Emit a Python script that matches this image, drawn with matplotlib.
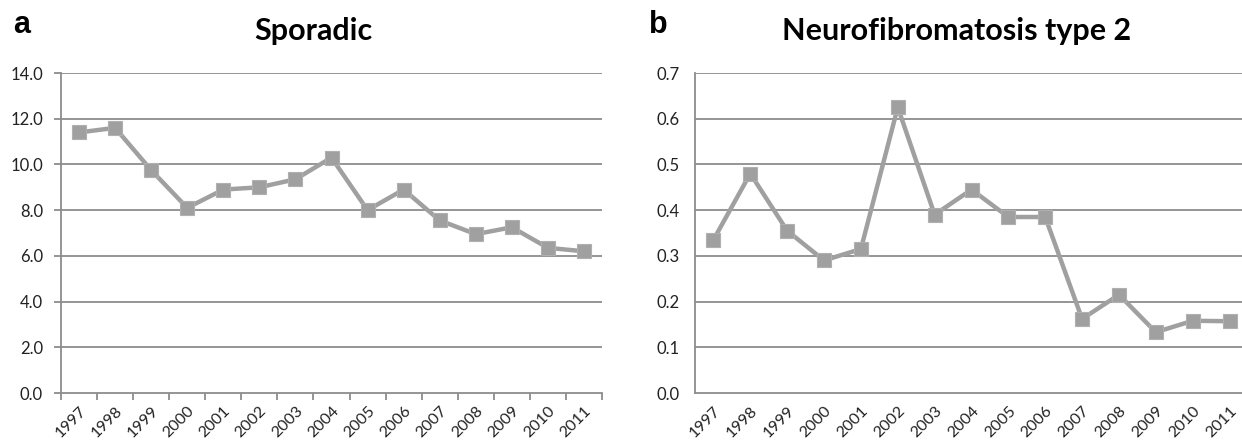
import matplotlib.pyplot as plt
import numpy as np

plt.rcParams['font.family'] = ['Lato', 'DejaVu Sans']

godine = ['1997', '1998', '1999', '2000', '2001', '2002', '2003', '2004',
          '2005', '2006', '2007', '2008', '2009', '2010', '2011']
sporadic = [11.4, 11.6, 9.75, 8.1, 8.9, 9.0, 9.35, 10.3, 8.0, 8.9, 7.55, 6.95, 7.25, 6.35, 6.2]
nf2 = [0.335, 0.48, 0.355, 0.29, 0.315, 0.625, 0.39, 0.445, 0.385, 0.385,
       0.162, 0.215, 0.133, 0.158, 0.157]

siva = '#a0a0a0'
mreza = '#8c8c8c'

fig = plt.figure(figsize=(12.42, 4.48), dpi=100)
ax1 = fig.add_axes([61/1242, 1-393/448, 541/1242, 320/448])
ax2 = fig.add_axes([695/1242, 1-393/448, 553/1242, 320/448])

x = np.arange(len(godine))

def nacrtaj(ax, y, ymax, korak, fmt, crtice):
    ax.plot(x, y, color=siva, linewidth=3.2, marker='s', markersize=10,
            markerfacecolor=siva, markeredgecolor='#b0b0b0', markeredgewidth=0.8,
            zorder=3)
    ax.set_xlim(-0.5, len(godine) - 0.5)
    ax.set_ylim(0, ymax)
    ticks = np.arange(0, ymax + korak / 2, korak)
    ax.set_yticks(ticks)
    ax.set_yticklabels([fmt.format(t) for t in ticks])
    ax.set_xticks(x)
    ax.set_xticklabels(godine, rotation=45, ha='right', rotation_mode='anchor')
    for t in ticks[1:]:
        ax.axhline(t, color=mreza, linewidth=1.3, zorder=1)
    for s in ['top', 'right']:
        ax.spines[s].set_visible(False)
    for s in ['left', 'bottom']:
        ax.spines[s].set_color(mreza)
        ax.spines[s].set_linewidth(1.3)
    ax.tick_params(axis='x', length=0, pad=8, labelsize=11.5, colors='#222222')
    if crtice:
        ax.set_xticks(np.arange(-0.5, len(godine)), minor=True)
        ax.tick_params(axis='x', which='minor', length=5, width=1.3, color=mreza)
        ax.tick_params(axis='y', length=5, width=1.3, color=mreza, pad=8,
                       labelsize=12, labelcolor='#222222')
    else:
        ax.tick_params(axis='y', length=0, pad=11, labelsize=12, labelcolor='#222222')

nacrtaj(ax1, sporadic, 14, 2, '{:.1f}', True)
nacrtaj(ax2, nf2, 0.7, 0.1, '{:.1f}', False)

fig.text(313/1242, 1-31/448, 'Sporadic', ha='center', va='center',
         fontsize=22, fontweight='bold')
fig.text(957/1242, 1-31/448, 'Neurofibromatosis type 2', ha='center', va='center',
         fontsize=22, fontweight='bold')
fig.text(22/1242, 1-25/448, 'a', ha='center', va='center', fontsize=22,
         fontweight='bold', family=['Liberation Sans'])
fig.text(658/1242, 1-25/448, 'b', ha='center', va='center', fontsize=22,
         fontweight='bold', family=['Liberation Sans'])

fig.savefig('out.png', dpi=100)
